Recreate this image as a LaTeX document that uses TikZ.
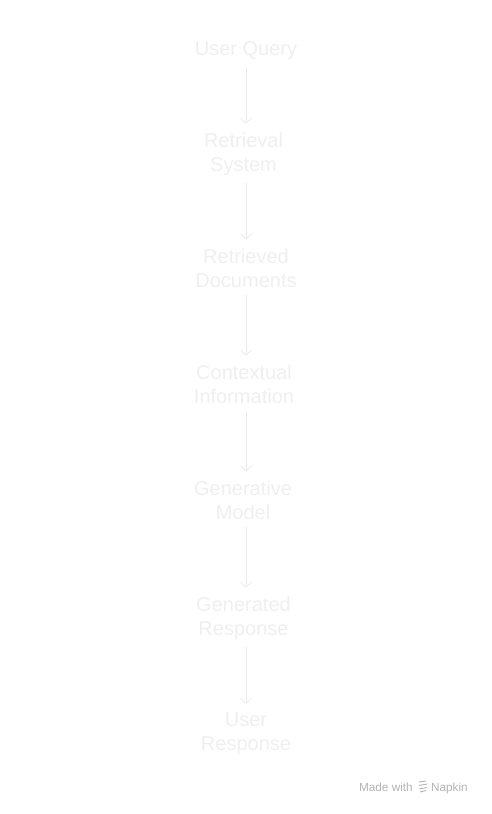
\documentclass[tikz,border=0pt]{standalone}
\usepackage{fontspec}
\setmainfont{Liberation Sans}
\usetikzlibrary{arrows.meta}
\definecolor{faint}{HTML}{EFEFEF}
\definecolor{faintline}{HTML}{EAEAEA}
\definecolor{footgray}{HTML}{B4B4B4}
\tikzset{
  step box/.style={inner sep=0pt, align=center, text=faint,
    font=\fontsize{20}{24}\selectfont},
  flow/.style={draw=faintline, line width=0.75pt,
    -{Straight Barb[length=5pt,width=11pt]}, shorten <=7pt, shorten >=9pt},
  foot/.style={anchor=base east, inner sep=0pt, text=footgray,
    font=\fontsize{11.8}{14}\selectfont}
}

\begin{document}
\begin{tikzpicture}[x=1pt,y=-1pt]
 		\useasboundingbox (0,0) rectangle (492,814);
 		\node [step box] (v1) at (246,51) {User Query};
 		\node [step box] (v2) at (243.5,154) {Retrieval\\System};
 		\node [step box] (v3) at (246,268) {Retrieved\\Documents};
 		\node [step box] (v4) at (244,384) {Contextual\\Information};
 		\node [step box] (v5) at (243,500) {Generative\\Model};
 		\node [step box] (v6) at (243.5,618) {Generated\\Response};
 		\node [step box] (v7) at (246,734) {User\\Response};
 		\draw [flow] (v1.south -| 246,0) -- (v2.north -| 246,0);
 		\draw [flow] (v2.south -| 246,0) -- (v3.north -| 246,0);
 		\draw [flow] (v3.south -| 246,0) -- (v4.north -| 246,0);
 		\draw [flow] (v4.south -| 246,0) -- (v5.north -| 246,0);
 		\draw [flow] (v5.south -| 246,0) -- (v6.north -| 246,0);
 		\draw [flow] (v6.south -| 246,0) -- (v7.north -| 246,0);
 		% footer
 		\node [foot] (n1) at (468,791) {Napkin};
 		\node [foot] (n2) at (413,791) {Made with};
 		\draw [footgray, line width=0.9pt] (419,782) -- (426,781) (419,785.5) -- (427,784) (419,789) -- (427,787.5) (420,792) -- (426,790.5);
 		\end{tikzpicture}
\end{document}
